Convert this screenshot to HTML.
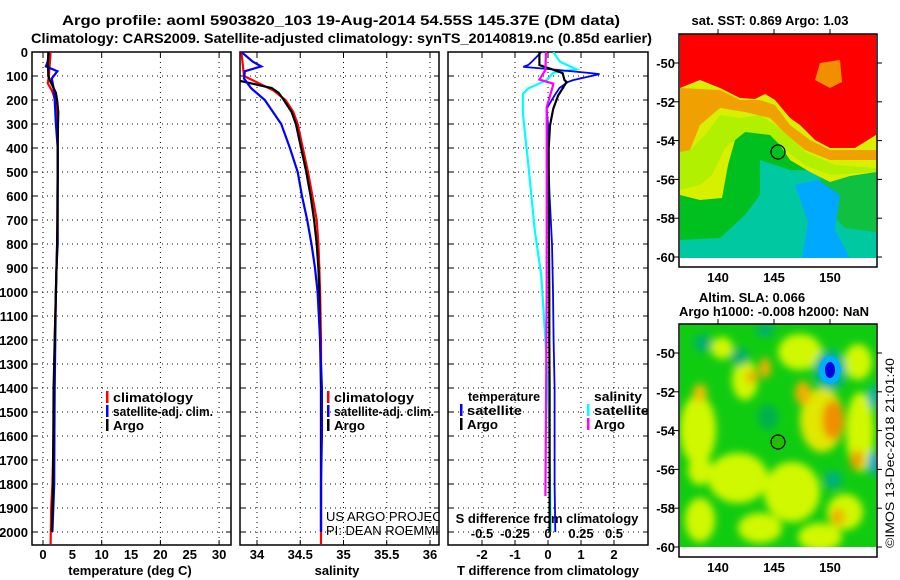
<!DOCTYPE html>
<html><head><meta charset="utf-8"><style>
html,body{margin:0;padding:0;background:#fff;}
svg{display:block;font-family:"Liberation Sans",sans-serif;}
.b{font-weight:bold;font-size:13px;}
.t{font-weight:bold;font-size:14px;}
</style></head><body>
<svg id="fig" width="900" height="580" viewBox="0 0 900 580" xmlns="http://www.w3.org/2000/svg">
<defs>
<filter id="blur" x="-20%" y="-20%" width="140%" height="140%"><feGaussianBlur stdDeviation="4"/></filter>
<clipPath id="c1"><rect x="32" y="52" width="199" height="493"/></clipPath>
<clipPath id="c2"><rect x="240" y="52" width="199" height="493"/></clipPath>
<clipPath id="c3"><rect x="448" y="52" width="200" height="493"/></clipPath>
<clipPath id="m1"><rect x="680" y="34" width="196" height="224"/></clipPath>
<clipPath id="m2"><rect x="680" y="324" width="196" height="223"/></clipPath>
</defs>
<text class="t" x="62" y="25" textLength="558" lengthAdjust="spacingAndGlyphs">Argo profile: aoml 5903820_103 19-Aug-2014 54.55S 145.37E (DM data)</text>
<text class="t" x="31" y="43" textLength="621" lengthAdjust="spacingAndGlyphs">Climatology: CARS2009. Satellite-adjusted climatology: synTS_20140819.nc (0.85d earlier)</text>
<g id="plots"></g>
<g id="maps"></g>
</svg>
<script>
// ---- data ----
const depthTicks = [0,100,200,300,400,500,600,700,800,900,1000,1100,1200,1300,1400,1500,1600,1700,1800,1900,2000];
const tempTicks = [0,5,10,15,20,25,30];
const salTicks = [34,34.5,35,35.5,36];
const salTickLabels = ['34','34.5','35','35.5','36'];
const tdTicks = [-2,-1,0,1,2];
const sdTicks = [-0.5,-0.25,0,0.25,0.5];
const sdTickLabels = ['-0.5','-0.25','0','0.25','0.5'];

const climDepth = [0,100,130,160,200,250,300,400,500,600,700,800,900,1000,1200,1400,1600,1800,1900,2050];
const climTemp  = [1.3,1.0,0.8,1.5,2.1,2.4,2.5,2.5,2.5,2.5,2.45,2.4,2.3,2.2,2.0,1.9,1.8,1.6,1.4,1.3];
const climSal   = [33.82,33.85,34.02,34.19,34.33,34.42,34.47,34.53,34.59,34.64,34.69,34.71,34.72,34.73,34.74,34.74,34.74,34.74,34.74,34.74];

const satDepth = [0,40,60,80,110,150,200,300,400,500,600,700,800,900,1000,1200,1400,1600,1800,2000];
const satTemp  = [1.0,0.8,0.5,2.45,1.5,1.8,2.0,2.2,2.5,2.5,2.5,2.5,2.5,2.3,2.2,2.1,2.0,1.95,1.9,1.6];
const satSal   = [33.82,33.95,34.05,33.86,33.85,33.93,34.09,34.28,34.38,34.47,34.52,34.58,34.63,34.67,34.70,34.73,34.75,34.75,34.74,34.74];

const argoDepth = [0,50,100,120,150,170,200,250,300,400,500,600,700,800,900,1000,1200,1400,1600,1800,2000];
const argoTemp  = [0.9,0.86,0.9,1.2,1.8,2.2,2.4,2.6,2.55,2.5,2.5,2.45,2.45,2.4,2.3,2.2,2.0,1.8,1.75,1.7,1.5];
const argoSal   = [33.78,33.78,33.78,33.80,34.17,34.25,34.31,34.40,34.45,34.51,34.57,34.62,34.66,34.69,34.71,34.72,34.73,34.74,34.74,34.74,34.74];

const diffDepth = [0,42,54,62,71,88,92,117,125,150,181,236,306,400,600,800,1000,1200,1400,1600,1800,2000];
const satTdiff  = [-0.2,-0.5,-0.6,-0.75,0.0,1.3,1.56,0.76,0.6,0.35,0.2,-0.04,0.0,0.0,0.05,0.12,0.15,0.17,0.2,0.2,0.2,0.22];
const argoTdiff = [-0.26,-0.26,-0.26,-0.1,0.1,0.44,0.45,0.5,0.56,0.45,0.31,0.16,0.06,0.02,0.02,0.03,0.04,0.04,0.05,0.05,0.05,0.05];
const sdDepth   = [0,40,72,86,117,152,174,257,465,743,937,1200,1400,1600,1800,2000];
const satSdiff  = [0.04,0.09,0.215,0.04,-0.01,-0.15,-0.19,-0.19,-0.15,-0.1,-0.05,-0.02,0.0,0.01,0.015,0.02];
const argoSdDepth = [0,75,115,132,146,229,500,1000,1500,1850];
const argoSdiff   = [-0.015,-0.02,-0.065,0.04,0.035,-0.01,-0.01,-0.01,-0.015,-0.02];

// ---- axes ----
const y = d => 52 + d*0.24;
const xT = t => 43 + 5.87*t;
const xS = s => 257 + (s-34)*86.5;
const xTd = v => 548 + 33*v;
const xSd = v => 548 + 132*v;

const NS='http://www.w3.org/2000/svg';
function mk(tag, attrs, parent){const e=document.createElementNS(NS,tag);for(const k in attrs)e.setAttribute(k,attrs[k]);parent.appendChild(e);return e;}
const plots=document.getElementById('plots');

function panel(x0,x1,gridXs,name){
  const g=mk('g',{},plots);
  
  
  depthTicks.forEach(d=>{ mk('line',{x1:x0,x2:x1,y1:y(d),y2:y(d),stroke:'#000','stroke-width':1,'stroke-dasharray':'1,4'},g);
    mk('line',{x1:x0,x2:x0+5,y1:y(d),y2:y(d),stroke:'#000'},g); mk('line',{x1:x1-5,x2:x1,y1:y(d),y2:y(d),stroke:'#000'},g);});
  gridXs.forEach(x=>{ mk('line',{x1:x,x2:x,y1:52,y2:545,stroke:'#000','stroke-dasharray':'1,4'},g);
    mk('line',{x1:x,x2:x,y1:52,y2:57,stroke:'#000'},g); mk('line',{x1:x,x2:x,y1:540,y2:545,stroke:'#000'},g);});
  mk('rect',{x:x0,y:52,width:x1-x0,height:493,fill:'none',stroke:'#000','stroke-width':1.5},g);
  return g;
}
function line(xs,ds,fx,color,clip,name,w){
  const pts=xs.map((v,i)=>fx(v).toFixed(1)+','+y(ds[i]).toFixed(1)).join(' ');
  const p=mk('polyline',{points:pts,fill:'none',stroke:color,'stroke-width':w||2.2,'clip-path':'url(#'+clip+')'},plots);
  
  
}
function txt(s,x,yy,cls,attrs,name){const e=mk('text',Object.assign({x:x,y:yy,class:cls},attrs||{}),plots);e.textContent=s;
  
  return e;}

panel(32,231,[0,10,20,30].map(xT),'temperature-panel');
panel(240,439,salTicks.map(xS),'salinity-panel');
panel(448,648,tdTicks.map(xTd),'difference-panel');

depthTicks.forEach(d=>txt(String(d),28,y(d)+5,'b',{'text-anchor':'end'},'depth-tick-label'));
tempTicks.forEach(t=>txt(String(t),xT(t),559,'b',{'text-anchor':'middle'},'temperature-tick-label'));
salTicks.forEach((s,i)=>txt(salTickLabels[i],xS(s),559,'b',{'text-anchor':'middle'},'salinity-tick-label'));
tdTicks.forEach(v=>txt(String(v),xTd(v),559,'b',{'text-anchor':'middle'},'t-diff-tick-label'));
sdTicks.forEach((v,i)=>txt(sdTickLabels[i],xSd(v),538,'b',{'text-anchor':'middle'},'s-diff-tick-label'));
txt('temperature (deg C)',130,575,'b',{'text-anchor':'middle'},'temperature-axis-title');
txt('salinity',337,575,'b',{'text-anchor':'middle'},'salinity-axis-title');
txt('T difference from climatology',548,575,'b',{'text-anchor':'middle'},'t-diff-axis-title');
txt('S difference from climatology',547,523,'b',{'text-anchor':'middle'},'s-diff-axis-title');

line(climTemp,climDepth,xT,'#f00','c1','temp-climatology-line');
line(satTemp,satDepth,xT,'#00f','c1','temp-satellite-line');
line(argoTemp,argoDepth,xT,'#000','c1','temp-argo-line');
line(climSal,climDepth,xS,'#f00','c2','sal-climatology-line');
line(argoSal,argoDepth,xS,'#000','c2','sal-argo-line');
line(satSal,satDepth,xS,'#00f','c2','sal-satellite-line');
line(satSdiff,sdDepth,xSd,'#0ff','c3','sdiff-satellite-line');
line(satTdiff,diffDepth,xTd,'#00f','c3','tdiff-satellite-line',1.8);
line(argoTdiff,diffDepth,xTd,'#000','c3','tdiff-argo-line');
line(argoSdiff,argoSdDepth,xSd,'#f0f','c3','sdiff-argo-line');

function leg(x,yy,color,label,tl){
  const m=mk('rect',{x:x-1,y:yy-11,width:2.5,height:12,fill:color},plots);
  
  
  const a={}; if(tl) {a.textLength=tl;a.lengthAdjust='spacingAndGlyphs';}
  txt(label,x+6,yy,'b',a,'legend-entry');
}
leg(107,402,'#f00','climatology',80);leg(107,416,'#00f','satellite-adj. clim.',100);leg(107,430,'#000','Argo',31);
leg(328,402,'#f00','climatology',80);leg(328,416,'#00f','satellite-adj. clim.',100);leg(328,430,'#000','Argo',31);
txt('temperature',468,401,'b',{textLength:72,lengthAdjust:'spacingAndGlyphs'},'legend-temperature-header');
txt('salinity',594,401,'b',{textLength:48,lengthAdjust:'spacingAndGlyphs'},'legend-salinity-header');
leg(461,415,'#00f','satellite',55);leg(461,429,'#000','Argo',31);
leg(588,415,'#0ff','satellite',55);leg(588,429,'#f0f','Argo',31);
const g2=mk('g',{'clip-path':'url(#c2)'},plots);
let e=mk('text',{x:326,y:521,'font-size':'13px'},g2);e.textContent='US ARGO PROJECT';


e=mk('text',{x:326,y:535,'font-size':'13px'},g2);e.textContent='PI: DEAN ROEMMICH';



// ---- maps ----
const latTicks=[-50,-52,-54,-56,-58,-60];
const lonTicks=[140,145,150];
const maps=document.getElementById('maps');
const lonX = l => 718 + (l-140)*11.2;
function mapAxes(top,bot,latY0,name){
  const g=mk('g',{},maps);
  
  
  mk('rect',{x:679,y:top,width:198,height:bot-top,fill:'none',stroke:'#000','stroke-width':1.5},g);
  latTicks.forEach(l=>{const yy=latY0+(-50-l)*19.4;
    mk('line',{x1:673,x2:679,y1:yy,y2:yy,stroke:'#000'},g);mk('line',{x1:877,x2:882,y1:yy,y2:yy,stroke:'#000'},g);
    const t=mk('text',{x:675,y:yy+5,class:'b','text-anchor':'end'},g);t.textContent=String(l);
    
    });
  lonTicks.forEach(l=>{mk('line',{x1:lonX(l),x2:lonX(l),y1:top-5,y2:top,stroke:'#000'},g);
    const t=mk('text',{x:lonX(l),y:bot+15,class:'b','text-anchor':'middle'},g);t.textContent=String(l);
    
    });
}
// map 1 (SST)
const m1=mk('g',{'clip-path':'url(#m1)'},maps);


function poly(g,pts,c){mk('polygon',{points:pts,fill:c},g);}
mk('rect',{x:680,y:34,width:196,height:224,fill:'#00c020'},m1);
poly(m1,'760,160 790,170 876,172 876,258 680,258 680,240 720,238 745,215 760,195','#00c8a0');
poly(m1,'820,172 876,165 876,232 845,228 822,205','#10c040');
poly(m1,'795,185 818,180 840,195 835,230 850,258 802,258 808,222','#00a8ff');
poly(m1,'680,80 876,80 876,172 850,176 830,182 810,172 790,160 780,145 770,130 750,128 735,140 728,165 722,198 700,200 680,195','#d8f000');
poly(m1,'680,150 690,150 705,135 720,115 740,118 760,115 780,128 792,138 805,152 835,165 876,168 876,172 830,175 805,165 785,150 770,135 745,132 725,148 712,175 700,185 680,190','#b0f000');
poly(m1,'680,88 720,90 740,100 760,100 775,105 790,125 810,140 830,150 876,150 876,160 830,160 805,150 785,133 770,118 745,112 720,108 700,125 690,150 680,152','#f0a000');
poly(m1,'680,34 876,34 876,135 855,148 830,148 815,140 800,125 790,118 775,100 765,94 755,99 740,98 720,88 700,80 680,88','#ff0000');
poly(m1,'820,63 840,60 842,82 830,88 815,80','#f09000');
mk('circle',{cx:778,cy:152,r:7,fill:'none',stroke:'#000','stroke-width':1.2},maps);
mapAxes(34,267,63,'sst-map-axes');
let tt=mk('text',{x:770,y:25,class:'b','text-anchor':'middle'},maps);tt.textContent='sat. SST: 0.869 Argo: 1.03';


// map 2 (SLA)
const m2=mk('g',{'clip-path':'url(#m2)'},maps);


mk('rect',{x:680,y:324,width:196,height:223,fill:'#10cc10'},m2);
const bl=mk('g',{filter:'url(#blur)'},m2);
const blobs=[
[698,430,18,35,'#d0f800'],[738,478,30,25,'#d0f800'],[700,520,15,22,'#d0f800'],[792,492,28,30,'#d0f800'],[760,528,22,15,'#d0f800'],
[820,537,22,14,'#d0f800'],[860,432,14,40,'#d0f800'],[845,512,18,18,'#d0f800'],[745,380,13,20,'#d0f800'],[722,348,11,11,'#d0f800'],
[800,352,22,18,'#d0f800'],[858,362,14,18,'#d0f800'],[822,420,22,32,'#e0e800'],[700,470,12,15,'#d0f800'],
[803,393,8,12,'#f0b000'],[833,420,11,20,'#f09000'],[857,460,7,10,'#f0a000'],[765,368,6,10,'#f0b000'],[752,377,6,7,'#f0b000'],[700,393,7,9,'#f0c000'],[838,517,7,9,'#f0b000'],
[703,343,9,9,'#00b070'],[765,330,9,7,'#00b070'],[740,357,9,9,'#00b070'],[768,417,10,13,'#00b050'],[833,480,9,9,'#00b080'],[873,397,5,12,'#00b0c0'],[873,463,5,12,'#00a0e0'],
[830,370,16,20,'#00b0a0']];
blobs.forEach(b=>mk('ellipse',{cx:b[0],cy:b[1],rx:b[2],ry:b[3],fill:b[4]},bl));
mk('ellipse',{cx:830,cy:370,rx:11,ry:14,fill:'#00b0ff'},m2);
mk('ellipse',{cx:830,cy:370,rx:5,ry:8,fill:'#0000e0'},m2);
mk('circle',{cx:778,cy:442,r:7,fill:'#20c000',stroke:'#000','stroke-width':1.2},maps);
mapAxes(324,557,353,'sla-map-axes');
tt=mk('text',{x:752,y:302,class:'b','text-anchor':'middle'},maps);tt.textContent='Altim. SLA: 0.066';


tt=mk('text',{x:774,y:316,class:'b','text-anchor':'middle'},maps);tt.textContent='Argo h1000: -0.008 h2000: NaN';


tt=mk('text',{x:0,y:0,'font-size':'12px',transform:'translate(894,548) rotate(-90)',textLength:190,lengthAdjust:'spacingAndGlyphs'},maps);tt.textContent='©IMOS 13-Dec-2018 21:01:40';


</script>
</body></html>
